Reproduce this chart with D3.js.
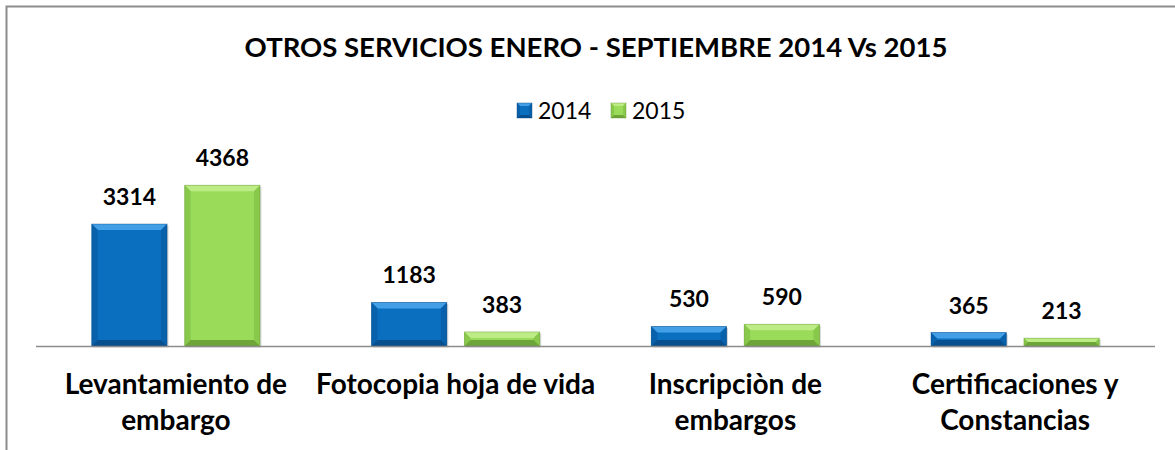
<!DOCTYPE html>
<html>
<head>
<meta charset="utf-8">
<script src="https://cdn.jsdelivr.net/npm/d3@7"></script>
<style>
  html, body { margin: 0; padding: 0; background: #fff; }
  svg { display: block; font-family: Lato, "Open Sans", sans-serif; }
</style>
</head>
<body>
<div class="container"></div>
<script>
(function(){

    var categories = [
        ["Levantamiento de", "embargo"],
        ["Fotocopia hoja de vida"],
        ["Inscripciòn de", "embargos"],
        ["Certificaciones y", "Constancias"]
    ];
    var seriesNames = ["2014", "2015"];
    var values2014 = [3314, 1183, 530, 365];
    var values2015 = [4368, 383, 590, 213];

    var width = 1175, height = 450;

    var colors = {
        "2014": { base: "#0b6fc0", top: "#43a0e6", side: "#0a61ab", bottom: "#074f8e" },
        "2015": { base: "#9bdb5a", top: "#bdec86", side: "#88c84a", bottom: "#6ea538" }
    };

    var svg = d3.select(".container").append("svg")
        .attr("width", width)
        .attr("height", height);

    // frame (only top and left visible in the crop)
    svg.append("path")
        .attr("d", "M6.5," + height + "V6.5H" + width)
        .attr("fill", "none")
        .attr("stroke", "#8c8c8c")
        .attr("stroke-width", 2);

    svg.append("text")
        .attr("x", 596)
        .attr("y", 57)
        .attr("text-anchor", "middle")
        .style("font-weight", "bold")
        .style("font-size", "27.5px")
        .text("OTROS SERVICIOS ENERO - SEPTIEMBRE 2014 Vs 2015");

    var x0 = d3.scaleBand()
        .domain(d3.range(categories.length))
        .range([36, 1155]);

    var x1 = d3.scaleBand()
        .domain(seriesNames)
        .range([0, x0.bandwidth()])
        .paddingInner(0.19)
        .paddingOuter(0.6);

    var y = d3.scaleLinear()
        .domain([0, 5000])
        .range([346, 162]);

    var data = [];
    categories.forEach(function(c, i) {
        data.push({ cat: i, key: "2014", value: values2014[i] });
        data.push({ cat: i, key: "2015", value: values2015[i] });
    });

    // legend
    var legend = svg.append("g").attr("transform", "translate(517,103)");
    var legendItem = legend.selectAll("g")
        .data(seriesNames)
        .enter().append("g")
        .attr("transform", function(d, i) { return "translate(" + (i * 94) + ",0)"; });
    legendItem.each(function(d) { bevelBar(d3.select(this), 0, 0, 15, 15, colors[d], 3); });
    legendItem.append("text")
        .attr("x", 21)
        .attr("y", 16)
        .style("font-size", "23px")
        .text(function(d) { return d; });

    function bevelBar(g, bx, by, bw, bh, c, bev) {
        var b = Math.min(bev, bh / 2, bw / 2);
        var x2 = bx + bw, y2 = by + bh;
        g.append("rect")
            .attr("x", bx).attr("y", by).attr("width", bw).attr("height", bh)
            .attr("fill", c.base);
        g.append("path")
            .attr("d", "M" + bx + "," + by + "L" + x2 + "," + by + "L" + (x2 - b) + "," + (by + b) + "L" + (bx + b) + "," + (by + b) + "Z")
            .attr("fill", c.top);
        g.append("path")
            .attr("d", "M" + bx + "," + by + "L" + (bx + b) + "," + (by + b) + "L" + (bx + b) + "," + (y2 - b) + "L" + bx + "," + y2 + "Z")
            .attr("fill", c.side);
        g.append("path")
            .attr("d", "M" + x2 + "," + by + "L" + (x2 - b) + "," + (by + b) + "L" + (x2 - b) + "," + (y2 - b) + "L" + x2 + "," + y2 + "Z")
            .attr("fill", c.side);
        g.append("path")
            .attr("d", "M" + bx + "," + y2 + "L" + (bx + b) + "," + (y2 - b) + "L" + (x2 - b) + "," + (y2 - b) + "L" + x2 + "," + y2 + "Z")
            .attr("fill", c.bottom);
        g.append("rect")
            .attr("x", bx).attr("y", by).attr("width", bw).attr("height", bh)
            .attr("fill", "none")
            .attr("stroke", d3.color(c.bottom).darker(0.3))
            .attr("stroke-opacity", 0.5)
            .attr("stroke-width", 0.8);
    }

    // bars
    var bars = svg.append("g").selectAll("g")
        .data(data)
        .enter().append("g");

    // soft shadow
    bars.append("rect")
        .attr("x", function(d) { return x0(d.cat) + x1(d.key) + 1.5; })
        .attr("y", function(d) { return y(d.value) + 1.5; })
        .attr("width", x1.bandwidth())
        .attr("height", function(d) { return y(0) - y(d.value); })
        .attr("fill", "#000")
        .attr("fill-opacity", 0.15);

    bars.each(function(d) {
        bevelBar(d3.select(this), x0(d.cat) + x1(d.key), y(d.value),
            x1.bandwidth(), y(0) - y(d.value), colors[d.key], 6);
    });

    // baseline
    svg.append("line")
        .attr("x1", x0.range()[0])
        .attr("x2", x0.range()[1])
        .attr("y1", y(0) + 0.5)
        .attr("y2", y(0) + 0.5)
        .attr("stroke", "#8c8c8c")
        .attr("stroke-width", 1.5);

    // value labels
    svg.append("g").selectAll("text")
        .data(data)
        .enter().append("text")
        .attr("x", function(d) { return x0(d.cat) + x1(d.key) + x1.bandwidth() / 2; })
        .attr("y", function(d) { return y(d.value) - 19; })
        .attr("text-anchor", "middle")
        .style("font-weight", "bold")
        .style("font-size", "23px")
        .text(function(d) { return d.value; });

    // category labels
    var catLabels = svg.append("g").selectAll("text")
        .data(categories)
        .enter().append("text")
        .attr("x", function(d, i) { return x0(i) + x0.bandwidth() / 2; })
        .attr("y", 394)
        .attr("text-anchor", "middle")
        .style("font-weight", "bold")
        .style("font-size", "28px");

    catLabels.selectAll("tspan")
        .data(function(d) { return d; })
        .enter().append("tspan")
        .attr("x", function() { return d3.select(this.parentNode).attr("x"); })
        .attr("dy", function(d, i) { return i === 0 ? 0 : 36; })
        .text(function(d) { return d; });

})();
</script>
</body>
</html>
